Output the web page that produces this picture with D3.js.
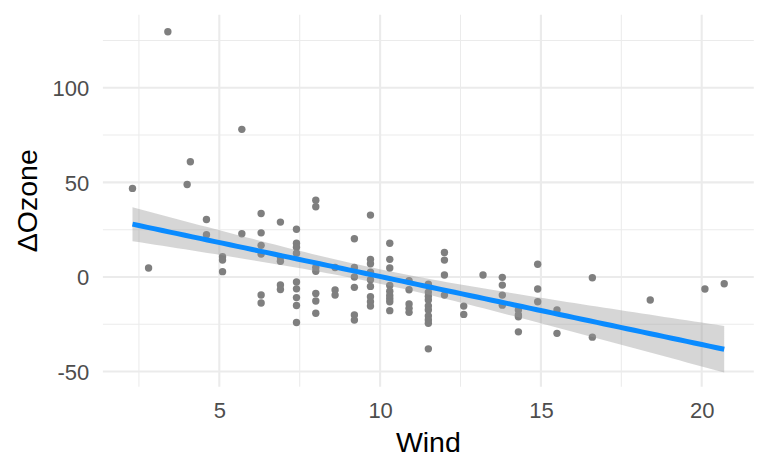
<!DOCTYPE html>
<html><head><meta charset="utf-8">
<script src="https://cdn.jsdelivr.net/npm/d3@7"></script>
<style>body{margin:0;background:#fff} svg{display:block}</style>
</head><body><svg id="c" width="768" height="474"></svg>
<script>
// ---- data ----
const wind = [
  2.3, 2.8, 3.4, 4.0, 4.1,
  4.6, 4.6,
  5.1, 5.1, 5.1,
  5.7, 5.7,
  6.3, 6.3, 6.3, 6.3, 6.3, 6.3,
  6.9, 6.9, 6.9, 6.9, 6.9,
  7.4, 7.4, 7.4, 7.4, 7.4, 7.4, 7.4, 7.4, 7.4,
  8.0, 8.0, 8.0, 8.0, 8.0, 8.0, 8.0,
  8.6, 8.6, 8.6,
  9.2, 9.2, 9.2, 9.2, 9.2, 9.2,
  9.7, 9.7, 9.7, 9.7, 9.7, 9.7, 9.7, 9.7, 9.7,
  10.3, 10.3, 10.3, 10.3, 10.3, 10.3, 10.3, 10.3, 10.3,
  10.9, 10.9, 10.9, 10.9, 10.9,
  11.5, 11.5, 11.5, 11.5, 11.5, 11.5, 11.5, 11.5, 11.5, 11.5,
  12.0, 12.0, 12.0, 12.0,
  12.6, 12.6,
  13.2,
  13.8, 13.8, 13.8, 13.8,
  14.3, 14.3, 14.3, 14.3,
  14.9, 14.9, 14.9,
  15.5, 15.5,
  16.6, 16.6,
  18.4, 20.1, 20.7
];
const dOzone = [
  46.8, 4.7, 129.6, 48.9, 60.9,
  30.4, 22.3,
  10.7, 8.9, 2.8,
  78.0, 22.8,
  33.5, 23.3, 16.7, 12.1, -9.5, -13.8,
  29.0, 10.5, 8.3, -4.2, -6.6,
  25.2, 17.8, 15.7, 12.5, -2.7, -6.3, -10.9, -15.1, -24.1,
  40.5, 37.1, 5.0, 3.0, -8.7, -12.7, -19.2,
  5.0, -6.9, -9.6,
  20.2, 5.0, 0.0, -5.5, -20.1, -22.8,
  32.7, 9.3, 7.0, 2.5, -1.5, -5.0, -10.5, -13.1, -15.4,
  17.8, 9.3, 4.7, -4.5, -7.5, -9.8, -11.5, -13.1, -17.8,
  -2.0, -6.8, -14.3, -16.6, -18.7,
  -3.8, -8.0, -10.2, -12.2, -15.3, -17.5, -20.6, -22.7, -24.5, -38.0,
  12.9, 8.9, 1.0, -9.6,
  -15.4, -19.8,
  1.0,
  -0.2, -4.3, -9.6, -14.9,
  -17.5, -20.1, -21.0, -29.0,
  6.7, -6.4, -13.1,
  -17.5, -29.8,
  -0.4, -31.8,
  -12.2, -6.4, -3.6
];
const xTicks = [5, 10, 15, 20];
const xMinor = [2.5, 7.5, 12.5, 17.5];
const yTicks = [-50, 0, 50, 100];
const yMinor = [-25, 25, 75, 125];
const xTitle = "Wind";
const yTitle = "\u0394Ozone";

// ---- layout ----
const svg = d3.select("#c");
const P = {left: 102.9, right: 753.8, top: 14.7, bottom: 386.7};
const xExt = d3.extent(wind);
const xPad = (xExt[1] - xExt[0]) * 0.05;
const x = d3.scaleLinear().domain([xExt[0] - xPad, xExt[1] + xPad]).range([P.left, P.right]);
const y = d3.scaleLinear().domain([-58, 138.6]).range([P.bottom, P.top]);

// ---- linear fit with 95% confidence band ----
const n = wind.length;
const mx = d3.mean(wind), my = d3.mean(dOzone);
let sxx = 0, sxy = 0;
for (let i = 0; i < n; i++) { sxx += (wind[i] - mx) ** 2; sxy += (wind[i] - mx) * (dOzone[i] - my); }
const b = sxy / sxx, a = my - b * mx;
let sse = 0;
for (let i = 0; i < n; i++) sse += (dOzone[i] - (a + b * wind[i])) ** 2;
const s = Math.sqrt(sse / (n - 2));
const tq = 1.959964 + 2.37 / (n - 2);
const fit = d3.range(80).map(i => {
  const xv = xExt[0] + i * (xExt[1] - xExt[0]) / 79;
  const yh = a + b * xv;
  const se = s * Math.sqrt(1 / n + (xv - mx) ** 2 / sxx);
  return {x: xv, y: yh, lo: yh - tq * se, hi: yh + tq * se};
});

// ---- grid ----
const g = svg.append("g");
g.selectAll(".xmin").data(xMinor).join("line")
  .attr("x1", d => x(d)).attr("x2", d => x(d)).attr("y1", P.top).attr("y2", P.bottom)
  .attr("stroke", "#EBEBEB").attr("stroke-width", 1.05);
g.selectAll(".ymin").data(yMinor).join("line")
  .attr("y1", d => y(d)).attr("y2", d => y(d)).attr("x1", P.left).attr("x2", P.right)
  .attr("stroke", "#EBEBEB").attr("stroke-width", 1.05);
g.selectAll(".xmaj").data(xTicks).join("line")
  .attr("x1", d => x(d)).attr("x2", d => x(d)).attr("y1", P.top).attr("y2", P.bottom)
  .attr("stroke", "#EBEBEB").attr("stroke-width", 2.1);
g.selectAll(".ymaj").data(yTicks).join("line")
  .attr("y1", d => y(d)).attr("y2", d => y(d)).attr("x1", P.left).attr("x2", P.right)
  .attr("stroke", "#EBEBEB").attr("stroke-width", 2.1);

// ---- points ----
svg.append("g").selectAll("circle").data(wind.map((w, i) => [w, dOzone[i]])).join("circle")
  .attr("cx", d => x(d[0])).attr("cy", d => y(d[1])).attr("r", 3.7)
  .attr("fill", "#7F7F7F");

// ---- smooth ----
svg.append("path").datum(fit)
  .attr("d", d3.area().x(d => x(d.x)).y0(d => y(d.lo)).y1(d => y(d.hi)))
  .attr("fill", "#999999").attr("fill-opacity", 0.4);
svg.append("path").datum(fit)
  .attr("d", d3.line().x(d => x(d.x)).y(d => y(d.y)))
  .attr("fill", "none").attr("stroke", "#0A8BFF").attr("stroke-width", 5);

// ---- axes ----
const font = "'Liberation Sans', Arial, Helvetica, sans-serif";
const xAxis = svg.append("g").attr("transform", `translate(0,${P.bottom})`)
  .call(d3.axisBottom(x).tickValues(xTicks).tickSize(0).tickPadding(0).tickFormat(d => String(d)));
xAxis.select(".domain").remove();
xAxis.selectAll("text").attr("y", 31.7).attr("dy", null)
  .attr("font-family", font).attr("font-size", 22).attr("fill", "#4D4D4D");

const yAxis = svg.append("g").attr("transform", `translate(${P.left},0)`)
  .call(d3.axisLeft(y).tickValues(yTicks).tickSize(0).tickPadding(0).tickFormat(d => String(d)));
yAxis.select(".domain").remove();
yAxis.selectAll("text").attr("x", 89.3 - P.left).attr("dy", "0.36em")
  .attr("font-family", font).attr("font-size", 22).attr("fill", "#4D4D4D");

svg.append("text").attr("x", (P.left + P.right) / 2).attr("y", 452.3)
  .attr("text-anchor", "middle").attr("font-family", font).attr("font-size", 28.5)
  .attr("fill", "#000").text(xTitle);
svg.append("text").attr("transform", `translate(36.7,${(P.top + P.bottom) / 2}) rotate(-90)`)
  .attr("text-anchor", "middle").attr("font-family", font).attr("font-size", 28.5)
  .attr("fill", "#000").text(yTitle);
</script>
</body></html>
